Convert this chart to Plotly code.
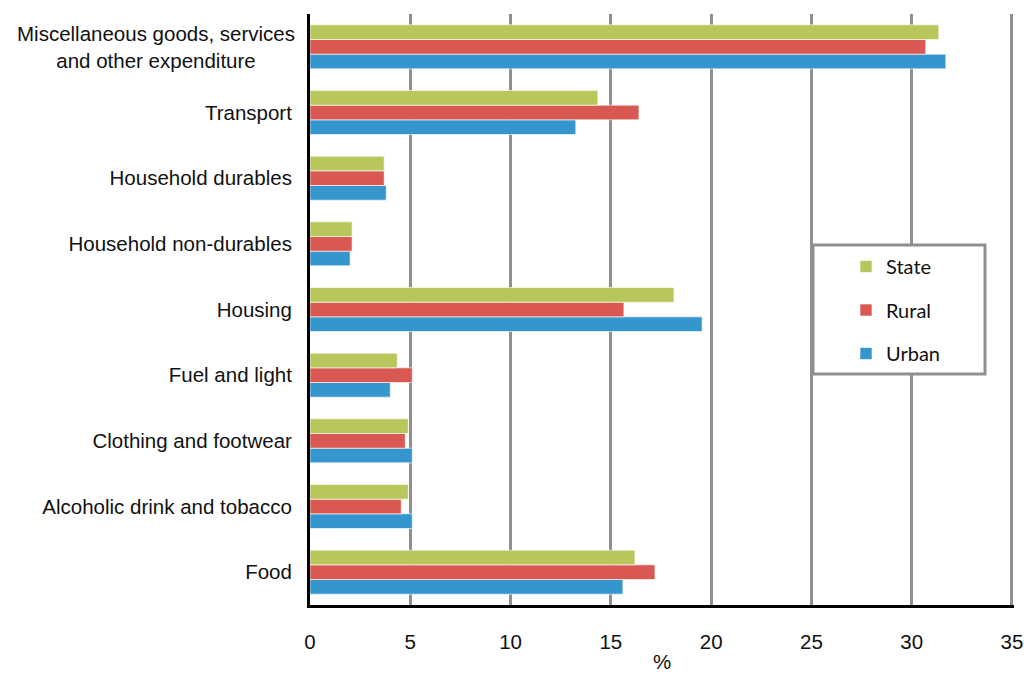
import plotly.graph_objects as go

categories = ["Food", "Alcoholic drink and tobacco", "Clothing and footwear",
              "Fuel and light", "Housing", "Household non-durables",
              "Household durables", "Transport",
              "Miscellaneous goods, services<br>and other expenditure"]
state = [16.2, 4.9, 4.9, 4.35, 18.15, 2.1, 3.7, 14.35, 31.35]
rural = [17.2, 4.55, 4.75, 5.1, 15.65, 2.1, 3.7, 16.4, 30.7]
urban = [15.6, 5.1, 5.1, 4.0, 19.55, 2.0, 3.8, 13.25, 31.7]
x_ticks = [0, 5, 10, 15, 20, 25, 30, 35]
x_title = "%"

series = [("Urban", urban, "#3596cd", 3), ("Rural", rural, "#d95952", 2), ("State", state, "#b9c65c", 1)]

fig = go.Figure()
for name, vals, col, rank in series:
    fig.add_trace(go.Bar(y=categories, x=vals, orientation="h", name=name,
                         legendgroup=name, legendrank=rank,
                         marker=dict(color=col, line=dict(color="rgba(255,255,255,0.6)", width=1))))

ticktext = ["" if "<br>" in c else c for c in categories]
label_font = dict(family="Liberation Sans, Arial", size=20.5, color="#111111")

W, H = 1024, 673
L, R, T, B = 310, 10, 14, 68
pw, ph = W - L - R, H - T - B

fig.update_layout(
    width=W, height=H,
    margin=dict(l=L, r=R, t=T, b=B, autoexpand=False),
    paper_bgcolor="white", plot_bgcolor="white",
    barmode="group", bargap=0.33, bargroupgap=0,
    showlegend=True,
    legend=dict(x=(846 - L) / pw, y=1 - (247 - T) / ph, xanchor="left", yanchor="top",
                traceorder="grouped", tracegroupgap=14.5,
                bgcolor="rgba(0,0,0,0)", borderwidth=0,
                font=dict(family="Lato", size=20, color="#111111")),
    xaxis=dict(range=[0, 35.1], tickvals=x_ticks, showgrid=True, gridcolor="#8f8f8f",
               gridwidth=3, zeroline=False, showline=True, linecolor="black", linewidth=3,
               tickfont=label_font, ticks="", ticklabelstandoff=16,
               ticklabeloverflow="allow", automargin=False,
               title=dict(text=x_title, font=label_font, standoff=12)),
    yaxis=dict(tickvals=categories, ticktext=ticktext, showgrid=False, zeroline=False,
               showline=True, linecolor="black", linewidth=3, ticks="", automargin=False,
               tickfont=label_font, ticklabelstandoff=11),
)

# two-line centred label for the top category
fig.add_annotation(x=0, xref="paper", xshift=-13, y=categories[-1], yref="y",
                   text=categories[-1], showarrow=False, xanchor="right",
                   align="center", font=label_font)

# legend frame
fig.add_shape(type="rect", xref="paper", yref="paper",
              x0=(813 - L) / pw, x1=(985 - L) / pw,
              y0=1 - (374 - T) / ph, y1=1 - (245 - T) / ph,
              line=dict(color="#8f8f8f", width=3), fillcolor="white", layer="above")

fig.write_html("out.html", config={"displayModeBar": False},
               post_script="document.body.style.margin='0';")
